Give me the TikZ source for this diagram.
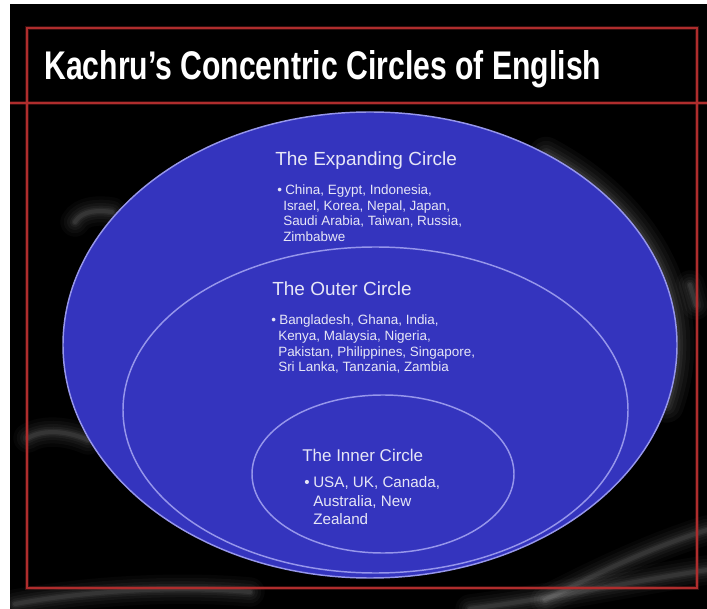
\documentclass[tikz,border=0pt]{standalone}
\usepackage{fontspec}
\setmainfont{Liberation Sans}
\usepackage{graphicx}
\definecolor{bluefill}{RGB}{52,52,190}
\definecolor{rim}{RGB}{150,150,235}
\definecolor{redline}{RGB}{175,45,45}
\definecolor{txt}{RGB}{230,230,246}
\begin{document}
\begin{tikzpicture}[x=0.75pt,y=-0.75pt,
  redl/.style={draw=redline,line width=1.1pt},
  redglow/.style={draw=redline,line width=3pt,opacity=0.3},
  circ/.style={fill=bluefill,draw=rim,line width=1.1pt},
  head/.style={anchor=base west,inner sep=0pt,text=txt,font=\fontsize{14.25pt}{17pt}\selectfont},
  ihead/.style={anchor=base west,inner sep=0pt,text=txt,font=\fontsize{12.75pt}{15pt}\selectfont},
  item/.style={anchor=base west,inner sep=0pt,text=txt,font=\fontsize{10.1pt}{12pt}\selectfont},
  iitem/.style={anchor=base west,inner sep=0pt,text=txt,font=\fontsize{11.4pt}{13pt}\selectfont},
  streak/.style={white,line cap=round}]
\useasboundingbox (0,0) rectangle (707,609);
\fill[white] (0,0) rectangle (707,609);
\fill[black] (10,4) rectangle (707,609);
% faint background streaks
\foreach \w/\o in {22/0.025,17/0.03,12/0.035,8/0.04,5/0.05,3/0.06}{
  \draw[streak,opacity=\o,line width=\w pt] (15,604) .. controls (80,592) and (170,585) .. (250,592);
  \draw[streak,opacity=\o,line width=\w pt] (545,600) .. controls (600,572) and (650,548) .. (707,530);
  \draw[streak,opacity=\o,line width=\w pt] (470,609) .. controls (560,597) and (640,580) .. (707,570);
  \draw[streak,opacity=\o,line width=\w pt] (75,222) .. controls (82,210) and (100,210) .. (112,212);
  \draw[streak,opacity=\o,line width=\w pt] (28,438) .. controls (45,428) and (70,432) .. (88,440);
  \draw[streak,opacity=\o,line width=\w pt] (690,285) -- (696,305);
}
% glow around outer ellipse (right side)
\foreach \w/\o in {26/0.03,20/0.035,14/0.04,9/0.05,5/0.06}{
  \draw[streak,opacity=\o,line width=\w pt] (370,345) ++(15:307 and 233)
    arc[start angle=15, end angle=-55, x radius=307, y radius=233];
}
% red frame
\draw[redglow] (27,28) rectangle (697,588);
\draw[redglow] (10,103) -- (707,103);
\draw[redl] (27,28) rectangle (697,588);
\draw[redl] (10,103) -- (707,103);
% title
\node[anchor=base west,inner sep=0pt,text=white] (title) at (44,80)
  {\resizebox{417.75pt}{21.75pt}{\bfseries Kachru’s Concentric Circles of English}};
% circles
\draw[circ] (370,345) ellipse [x radius=307, y radius=233];
\draw[circ] (375.5,410) ellipse [x radius=252.5, y radius=163];
\draw[circ] (383,474) ellipse [x radius=131, y radius=79];
% expanding circle text
\node[head] (exph) at (275,166) {The Expanding Circle};
\node[item] (expb) at (277,195) {•};
\node[item] (exp1) at (285,195) {China, Egypt, Indonesia,};
\node[item] (exp2) at (283,210.5) {Israel, Korea, Nepal, Japan,};
\node[item] (exp3) at (283,226) {Saudi Arabia, Taiwan, Russia,};
\node[item] (exp4) at (283,241.5) {Zimbabwe};
% outer circle text
\node[head] (outh) at (272,296) {The Outer Circle};
\node[item] (outb) at (271,325) {•};
\node[item] (out1) at (279,325) {Bangladesh, Ghana, India,};
\node[item] (out2) at (278,341) {Kenya, Malaysia, Nigeria,};
\node[item] (out3) at (278,356.5) {Pakistan, Philippines, Singapore,};
\node[item] (out4) at (278,372) {Sri Lanka, Tanzania, Zambia};
% inner circle text
\node[ihead] (innh) at (302,461) {The Inner Circle};
\node[iitem] (innb) at (304,488) {•};
\node[iitem] (inn1) at (313,488) {USA, UK, Canada,};
\node[iitem] (inn2) at (313,506) {Australia, New};
\node[iitem] (inn3) at (313,524) {Zealand};
\end{tikzpicture}
\end{document}
